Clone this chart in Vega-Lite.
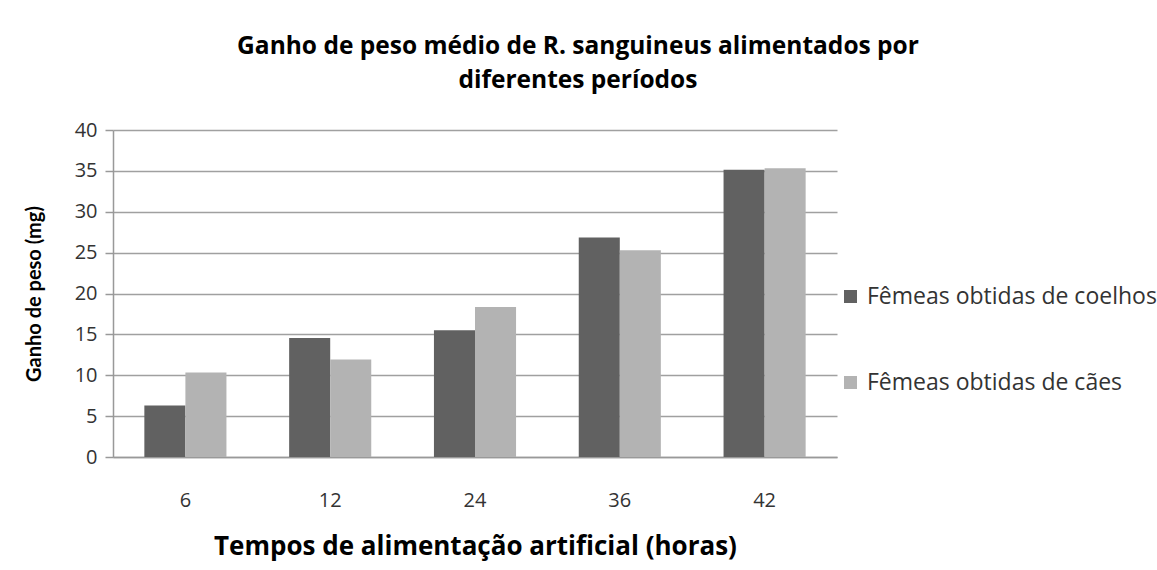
{
  "$schema": "https://vega.github.io/schema/vega-lite/v6.json",
  "width": 724,
  "height": 327,
  "autosize": {"type": "none"},
  "padding": {"left": 113, "top": 130, "right": 320, "bottom": 113},
  "background": "white",
  "title": {
    "text": ["Ganho de peso médio de R. sanguineus  alimentados por", "diferentes períodos"],
    "font": "Open Sans",
    "fontSize": 24.5,
    "fontWeight": "bold",
    "color": "black",
    "anchor": "middle",
    "frame": "group",
    "dx": 103,
    "offset": 27,
    "lineHeight": 34,
    "limit": 1000
  },
  "data": {
    "values": [
      {"tempo": 6, "grupo": "Fêmeas obtidas de coelhos", "ganho": 6.3},
      {"tempo": 6, "grupo": "Fêmeas obtidas de cães", "ganho": 10.33},
      {"tempo": 12, "grupo": "Fêmeas obtidas de coelhos", "ganho": 14.57},
      {"tempo": 12, "grupo": "Fêmeas obtidas de cães", "ganho": 11.92},
      {"tempo": 24, "grupo": "Fêmeas obtidas de coelhos", "ganho": 15.5},
      {"tempo": 24, "grupo": "Fêmeas obtidas de cães", "ganho": 18.36},
      {"tempo": 36, "grupo": "Fêmeas obtidas de coelhos", "ganho": 26.85},
      {"tempo": 36, "grupo": "Fêmeas obtidas de cães", "ganho": 25.3},
      {"tempo": 42, "grupo": "Fêmeas obtidas de coelhos", "ganho": 35.13},
      {"tempo": 42, "grupo": "Fêmeas obtidas de cães", "ganho": 35.33}
    ]
  },
  "mark": {"type": "bar"},
  "encoding": {
    "x": {
      "field": "tempo",
      "type": "ordinal",
      "sort": [6, 12, 24, 36, 42],
      "scale": {"paddingInner": 0.433, "paddingOuter": 0.2165},
      "axis": {
        "title": "Tempos de alimentação artificial (horas)",
        "titleFont": "Open Sans",
        "titleFontSize": 26,
        "titleFontWeight": "bold",
        "titleColor": "black",
        "titlePadding": 23,
        "labelAngle": 0,
        "labelFont": "Open Sans",
        "labelFontSize": 20,
        "labelColor": "#333333",
        "labelPadding": 33,
        "ticks": false,
        "domainColor": "#999999",
        "domainWidth": 1.5,
        "grid": false
      }
    },
    "xOffset": {
      "field": "grupo",
      "type": "nominal",
      "sort": ["Fêmeas obtidas de coelhos", "Fêmeas obtidas de cães"]
    },
    "y": {
      "field": "ganho",
      "type": "quantitative",
      "scale": {"domain": [0, 40], "nice": false},
      "axis": {
        "title": "Ganho de peso (mg)",
        "titleFont": "Lato",
        "titleFontSize": 20,
        "titleFontWeight": "bold",
        "titleColor": "black",
        "titlePadding": 30,
        "values": [0, 5, 10, 15, 20, 25, 30, 35, 40],
        "labelFont": "Open Sans",
        "labelFontSize": 20,
        "labelColor": "#333333",
        "labelPadding": 8,
        "tickSize": 8,
        "tickColor": "#999999",
        "tickWidth": 1.5,
        "domainColor": "#999999",
        "domainWidth": 1.5,
        "gridColor": "#a0a0a0",
        "gridWidth": 1.5
      }
    },
    "color": {
      "field": "grupo",
      "type": "nominal",
      "scale": {
        "domain": ["Fêmeas obtidas de coelhos", "Fêmeas obtidas de cães"],
        "range": ["#616161", "#b3b3b3"]
      },
      "legend": {
        "title": null,
        "orient": "none",
        "legendX": 726,
        "legendY": 155,
        "symbolType": "square",
        "symbolSize": 169,
        "symbolStrokeWidth": 0,
        "labelFont": "Open Sans",
        "labelFontSize": 23,
        "labelColor": "#333333",
        "labelOffset": 5,
        "rowPadding": 62,
        "labelLimit": 400
      }
    }
  },
  "config": {"view": {"stroke": null}}
}
